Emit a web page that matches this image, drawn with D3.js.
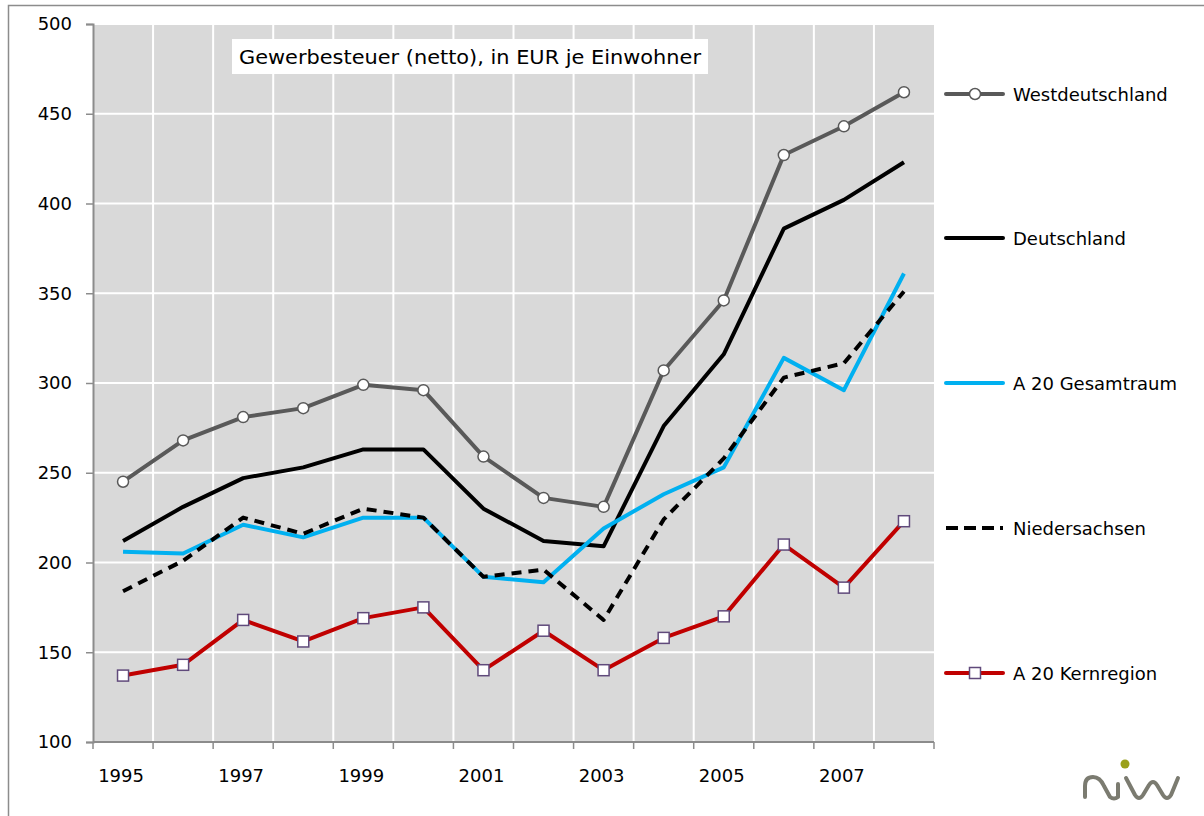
<!DOCTYPE html>
<html>
<head>
<meta charset="utf-8">
<script src="https://cdn.jsdelivr.net/npm/d3@7"></script>
<style>
  body { margin: 0; background: #fff; }
  text { font-family: "DejaVu Sans", Verdana, sans-serif; fill: #000; }
</style>
</head>
<body>
<div id="chart"></div>
<script>
// Gewerbesteuer (netto), EUR je Einwohner
var years = [1995, 1996, 1997, 1998, 1999, 2000, 2001, 2002, 2003, 2004, 2005, 2006, 2007, 2008];
var yearLabels = ["1995", "1997", "1999", "2001", "2003", "2005", "2007"];
var yTicks = [100, 150, 200, 250, 300, 350, 400, 450, 500];

var westdeutschland = [245, 268, 281, 286, 299, 296, 259, 236, 231, 307, 346, 427, 443, 462];
var deutschland = [212, 231, 247, 253, 263, 263, 230, 212, 209, 276, 316, 386, 402, 423];
var a20Gesamtraum = [206, 205, 221, 214, 225, 225, 192, 189, 219, 238, 253, 314, 296, 361];
var niedersachsen = [184, 201, 225, 216, 230, 225, 192, 196, 168, 224, 258, 303, 311, 351];
var a20Kernregion = [137, 143, 168, 156, 169, 175, 140, 162, 140, 158, 170, 210, 186, 223];

var seriesNames = ["Westdeutschland", "Deutschland", "A 20 Gesamtraum", "Niedersachsen", "A 20 Kernregion"];

var series = [
    { name: seriesNames[0], values: westdeutschland, color: "#595959", dash: null, marker: "circle" },
    { name: seriesNames[1], values: deutschland, color: "#000000", dash: null, marker: null },
    { name: seriesNames[2], values: a20Gesamtraum, color: "#00b0f0", dash: null, marker: null },
    { name: seriesNames[3], values: niedersachsen, color: "#000000", dash: "10,7", marker: null },
    { name: seriesNames[4], values: a20Kernregion, color: "#c00000", dash: null, marker: "square" }
];

var svgWidth = 1204;
var svgHeight = 816;
var plot = { left: 93, top: 24, right: 934, bottom: 742 };

var svg = d3.select("#chart")
    .append("svg")
    .attr("width", svgWidth)
    .attr("height", svgHeight);

// outer frame
svg.append("path")
    .attr("d", "M8.5,816 L8.5,5.5 L1204,5.5")
    .attr("fill", "none")
    .attr("stroke", "#8c8c8c")
    .attr("stroke-width", 1.5);

var x = d3.scaleBand()
    .domain(years)
    .range([plot.left, plot.right])
    .padding(0);

var y = d3.scaleLinear()
    .domain([100, 500])
    .range([plot.bottom, plot.top]);

// plot background
svg.append("rect")
    .attr("x", plot.left)
    .attr("y", plot.top)
    .attr("width", plot.right - plot.left)
    .attr("height", plot.bottom - plot.top)
    .attr("fill", "#d9d9d9");

// grid lines
svg.append("g")
    .selectAll("line")
    .data(yTicks.slice(1))
    .enter()
    .append("line")
    .attr("x1", plot.left)
    .attr("x2", plot.right)
    .attr("y1", function (d) { return y(d); })
    .attr("y2", function (d) { return y(d); })
    .attr("stroke", "#fff")
    .attr("stroke-width", 2);

svg.append("g")
    .selectAll("line")
    .data(years.slice(1))
    .enter()
    .append("line")
    .attr("x1", function (d) { return x(d); })
    .attr("x2", function (d) { return x(d); })
    .attr("y1", plot.top)
    .attr("y2", plot.bottom)
    .attr("stroke", "#fff")
    .attr("stroke-width", 2);

// y axis
var yAxis = svg.append("g")
    .attr("transform", "translate(" + plot.left + ",0)")
    .call(d3.axisLeft(y).tickValues(yTicks).tickSize(7).tickPadding(14));
yAxis.select(".domain").attr("stroke", "#8c8c8c").attr("stroke-width", 2);
yAxis.selectAll(".tick line").attr("stroke", "#8c8c8c").attr("stroke-width", 1.5);
yAxis.selectAll("text")
    .attr("font-size", "18px")
    .attr("font-family", "DejaVu Sans, Verdana, sans-serif")
    .attr("fill", "#000");

// x axis: ticks between categories
var xAxis = svg.append("g")
    .attr("transform", "translate(0," + plot.bottom + ")");
xAxis.append("line")
    .attr("x1", plot.left)
    .attr("x2", plot.right)
    .attr("stroke", "#8c8c8c")
    .attr("stroke-width", 2);
xAxis.selectAll(".xtick")
    .data(years.concat([null]))
    .enter()
    .append("line")
    .attr("x1", function (d, i) { return plot.left + i * x.bandwidth(); })
    .attr("x2", function (d, i) { return plot.left + i * x.bandwidth(); })
    .attr("y1", 0)
    .attr("y2", 7)
    .attr("stroke", "#8c8c8c")
    .attr("stroke-width", 1.5);
xAxis.selectAll(".xlabel")
    .data(yearLabels)
    .enter()
    .append("text")
    .attr("x", function (d) { return x(+d) + x.bandwidth() / 2 - 2; })
    .attr("y", 40)
    .attr("text-anchor", "middle")
    .attr("font-size", "18px")
    .text(function (d) { return d; });

// lines
var line = d3.line()
    .x(function (d, i) { return x(years[i]) + x.bandwidth() / 2; })
    .y(function (d) { return y(d); });

series.forEach(function (s) {
    svg.append("path")
        .datum(s.values)
        .attr("fill", "none")
        .attr("stroke", s.color)
        .attr("stroke-width", 4)
        .attr("stroke-linejoin", "round")
        .attr("stroke-dasharray", s.dash)
        .attr("d", line);
});

function drawMarker(g, type, cx, cy) {
    if (type === "circle") {
        g.append("circle")
            .attr("cx", cx).attr("cy", cy).attr("r", 5.5)
            .attr("fill", "#fff")
            .attr("stroke", "#595959")
            .attr("stroke-width", 1.5);
    } else if (type === "square") {
        g.append("rect")
            .attr("x", cx - 5.5).attr("y", cy - 5.5)
            .attr("width", 11).attr("height", 11)
            .attr("fill", "#fff")
            .attr("stroke", "#604a7b")
            .attr("stroke-width", 1.5);
    }
}

series.forEach(function (s) {
    if (!s.marker) return;
    var g = svg.append("g");
    s.values.forEach(function (v, i) {
        drawMarker(g, s.marker, x(years[i]) + x.bandwidth() / 2, y(v));
    });
});

// title box
var title = svg.append("g");
title.append("rect")
    .attr("x", 232).attr("y", 39)
    .attr("width", 476).attr("height", 35)
    .attr("fill", "#fff");
title.append("text")
    .attr("x", 470).attr("y", 64)
    .attr("text-anchor", "middle")
    .attr("font-size", "19px")
    .attr("textLength", 462)
    .attr("lengthAdjust", "spacingAndGlyphs")
    .text("Gewerbesteuer (netto), in EUR je Einwohner");

// legend
var legendY = [94, 238, 383, 528, 673];
var legend = svg.selectAll(".legend")
    .data(series)
    .enter()
    .append("g")
    .attr("transform", function (d, i) { return "translate(946," + legendY[i] + ")"; });

legend.append("line")
    .attr("x1", 0).attr("x2", 57)
    .attr("stroke", function (d) { return d.color; })
    .attr("stroke-width", 4)
    .attr("stroke-linecap", function (d) { return d.dash ? "butt" : "round"; })
    .attr("stroke-dasharray", function (d) { return d.dash ? "12,6" : null; });

legend.each(function (d) {
    if (d.marker) drawMarker(d3.select(this), d.marker, 29, 0);
});

legend.append("text")
    .attr("x", 67)
    .attr("y", 7)
    .attr("font-size", "18px")
    .text(function (d) { return d.name; });

// niw logo
var logo = svg.append("g")
    .attr("fill", "none")
    .attr("stroke", "#7b7b70")
    .attr("stroke-width", 4)
    .attr("stroke-linecap", "round")
    .attr("stroke-linejoin", "round");
logo.append("path")
    .attr("d", "M1085,797 L1085,786 Q1085,777 1093,777 Q1100,777 1104,786 L1110,797 Q1114,800 1118,797 L1118,784");
logo.append("path")
    .attr("d", "M1126,778 L1135,795 Q1139,801 1143,795 L1149,785 Q1153,779 1157,785 L1163,795 Q1167,801 1171,795 L1178,778");
svg.append("circle")
    .attr("cx", 1125).attr("cy", 764).attr("r", 4.5)
    .attr("fill", "#9aa01a");
</script>
</body>
</html>
